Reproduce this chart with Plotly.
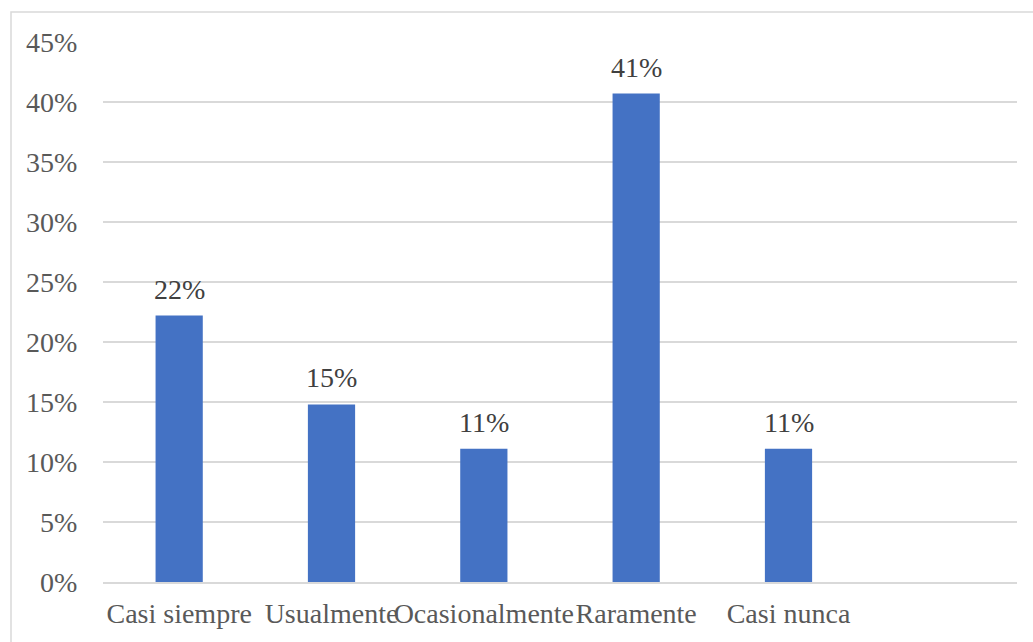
import plotly.graph_objects as go

categories = ["Casi siempre", "Usualmente", "Ocasionalmente", "Raramente", "Casi nunca"]
values = [22.2, 14.8, 11.1, 40.7, 11.1]
y_ticks = [0, 5, 10, 15, 20, 25, 30, 35, 40, 45]
y_tick_labels = [f"{v}%" for v in y_ticks]

W, H = 1033, 642
L, R, T, B = 103, 16, 42, 60
pw, ph = W - L - R, H - T - B
FS = 28

xs = list(range(len(categories)))

fig = go.Figure()
fig.add_trace(go.Bar(
    x=xs, y=values, width=0.31,
    marker=dict(color="#4472C4", line=dict(width=0)),
    hoverinfo="skip",
))

for x, v in zip(xs, values):
    fig.add_annotation(
        x=x, y=v, text=f"{round(v)}%", showarrow=False,
        yanchor="bottom", yshift=9,
        font=dict(family="Liberation Serif", size=FS, color="#404040"),
    )

# chart border
fig.add_shape(
    type="rect", xref="paper", yref="paper",
    x0=(11 - L) / pw, x1=(W + 10 - L) / pw,
    y0=-0.5, y1=(H - B - 12) / ph,
    line=dict(color="#d9d9d9", width=1.5), fillcolor="rgba(0,0,0,0)",
    layer="below",
)

fig.update_layout(
    width=W, height=H,
    margin=dict(l=L, r=R, t=T, b=B, pad=0, autoexpand=False),
    paper_bgcolor="white", plot_bgcolor="white",
    showlegend=False,
    font=dict(family="Liberation Serif", size=FS, color="#595959"),
    xaxis=dict(
        range=[-0.5, 5.5], tickvals=xs, ticktext=categories,
        tickangle=0, automargin=False,
        showgrid=False, zeroline=False,
        showline=True, linecolor="#d9d9d9", linewidth=1.5,
        ticks="outside", ticklen=6, tickcolor="rgba(0,0,0,0)",
        tickfont=dict(family="Liberation Serif", size=FS, color="#595959"),
        fixedrange=True,
    ),
    yaxis=dict(
        range=[0, 45], tickvals=y_ticks, ticktext=y_tick_labels,
        automargin=False,
        showgrid=True, gridcolor="#d9d9d9", gridwidth=1.5,
        zeroline=False, showline=False,
        ticks="outside", ticklen=19, tickcolor="rgba(0,0,0,0)",
        tickfont=dict(family="Liberation Serif", size=FS, color="#595959"),
        fixedrange=True,
    ),
)

fig.write_html("out.html", config={"displayModeBar": False})
